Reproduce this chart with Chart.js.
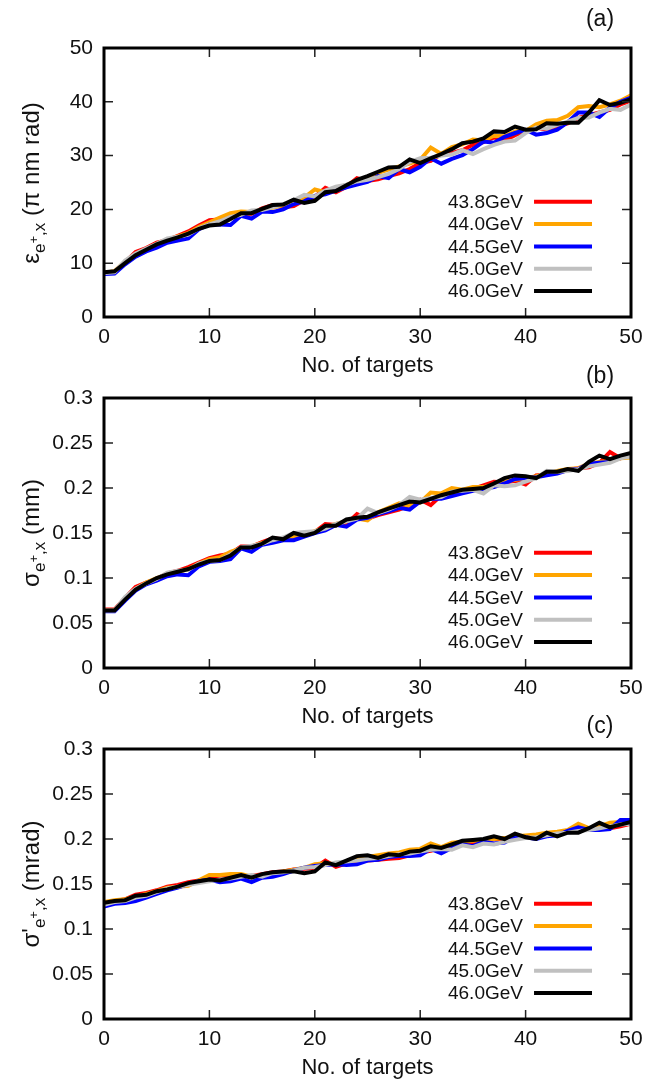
<!DOCTYPE html>
<html>
<head>
<meta charset="utf-8">
<script src="https://cdn.jsdelivr.net/npm/chart.js@4.4.1/dist/chart.umd.min.js"></script>
<style>
  body { margin: 0; background: #fff; width: 657px; height: 1080px; overflow: hidden; position: relative;
         font-family: "Liberation Sans", Arial, sans-serif; }
  canvas { position: absolute; left: 0; }
  .ylab { position: absolute; font-size: 24px; white-space: nowrap; color: #111;
          transform: translate(-50%, -50%) rotate(-90deg); }
  .ylab sub { font-size: 17px; }
  .ylab sub sup { font-size: 13px; }
  .tag { position: absolute; font-size: 23px; color: #111; transform: translate(-50%, -50%); }
</style>
</head>
<body>
<canvas id="chartA" width="657" height="383" style="top:0px"></canvas>
<canvas id="chartB" width="657" height="384" style="top:350px"></canvas>
<canvas id="chartC" width="657" height="384" style="top:701px"></canvas>

<div class="tag" style="left:600px;top:18px">(a)</div>
<div class="tag" style="left:600px;top:375px">(b)</div>
<div class="tag" style="left:600px;top:725px">(c)</div>

<div class="ylab" style="left:33px;top:183px">&epsilon;<sub>e<sup>+</sup>,x</sub> (&pi; nm rad)</div>
<div class="ylab" style="left:33px;top:533px">&sigma;<sub>e<sup>+</sup>,x</sub> (mm)</div>
<div class="ylab" style="left:33px;top:884px">&sigma;'<sub>e<sup>+</sup>,x</sub> (mrad)</div>

<script>
const targets = [0,1,2,3,4,5,6,7,8,9,10,11,12,13,14,15,16,17,18,19,20,21,22,23,24,25,26,27,28,29,30,
  31,32,33,34,35,36,37,38,39,40,41,42,43,44,45,46,47,48,49,50];
const energies = ['43.8GeV', '44.0GeV', '44.5GeV', '45.0GeV', '46.0GeV'];
const colors = ['#ff0000', '#ffa500', '#0000ff', '#c0c0c0', '#000000'];

const xTicks = [0, 10, 20, 30, 40, 50];
const yTicksA = [0, 10, 20, 30, 40, 50];
const yTicksBC = [0, 0.05, 0.1, 0.15, 0.2, 0.25, 0.3];
const yLabelsBC = ['0', '0.05', '0.1', '0.15', '0.2', '0.25', '0.3'];

// (a) emittance, pi nm rad
const eps438 = [8.3,8.4,10.2,12.1,12.8,13.8,14.3,15.1,15.9,17.0,18.0,18.1,18.7,19.2,19.2,20.2,20.8,20.4,20.6,21.7,
  22.3,24.0,23.2,24.2,25.8,25.3,25.6,26.2,26.7,27.5,28.6,29.0,30.3,30.5,31.0,32.0,32.5,33.4,32.8,33.8,
  34.6,35.2,34.8,35.5,36.0,37.0,37.5,38.0,38.5,39.5,40.2];
const eps440 = [8.2,8.5,10.3,11.7,12.6,13.6,14.4,15.0,15.6,16.7,17.6,18.5,19.3,19.6,19.5,20.0,20.3,20.8,21.5,22.2,
  23.7,23.2,24.1,24.5,25.4,26.0,26.8,27.4,28.0,28.5,29.2,31.5,30.3,31.6,32.1,33.0,32.8,33.7,33.6,34.5,
  34.6,35.8,36.5,36.6,37.4,39.0,39.2,39.0,39.5,40.2,41.2];
const eps445 = [8.0,8.1,9.8,11.2,12.2,12.9,13.8,14.2,14.6,16.3,17.2,17.2,17.1,18.8,18.3,19.6,19.5,20.0,21.0,21.5,
  22.5,22.8,23.5,24.1,24.6,25.1,26.2,25.8,27.5,26.9,27.9,29.5,28.5,29.4,30.1,31.2,32.6,32.4,33.5,34.2,
  34.8,33.9,34.2,34.8,36.2,38.0,38.0,37.2,38.9,40.0,40.8];
const eps450 = [8.2,8.3,10.5,11.8,12.7,13.6,14.6,14.9,15.3,16.5,17.2,17.8,18.6,19.0,19.8,19.9,20.4,21.0,21.7,22.7,
  22.4,23.5,24.2,24.6,25.2,25.5,26.0,26.6,27.5,28.8,29.5,29.6,30.0,30.2,31.0,30.3,31.2,32.0,32.6,32.8,
  34.2,35.2,35.0,35.7,36.3,37.0,37.1,38.0,38.7,38.5,39.5];
const eps460 = [8.3,8.5,10.0,11.5,12.5,13.5,14.2,14.8,15.5,16.4,17.0,17.2,18.2,19.3,19.3,20.1,20.8,20.9,21.8,21.2,
  21.6,23.2,23.4,24.5,25.5,26.2,27.0,27.8,27.9,29.3,28.6,29.5,30.3,31.2,32.3,32.6,33.2,34.5,34.4,35.4,
  34.8,34.9,36.0,35.9,36.1,36.1,38.0,40.3,39.4,39.8,40.5];

// (b) beam size, mm
const sig438 = [0.065,0.065,0.078,0.090,0.095,0.099,0.105,0.108,0.112,0.117,0.122,0.125,0.127,0.135,0.135,0.140,0.144,0.143,0.145,0.147,
  0.151,0.160,0.159,0.160,0.171,0.166,0.170,0.173,0.176,0.181,0.187,0.181,0.192,0.193,0.197,0.199,0.203,0.207,0.206,0.208,
  0.204,0.214,0.215,0.217,0.220,0.222,0.223,0.228,0.240,0.233,0.238];
const sig440 = [0.064,0.064,0.077,0.088,0.095,0.100,0.104,0.107,0.110,0.116,0.121,0.123,0.129,0.133,0.135,0.139,0.142,0.144,0.146,0.148,
  0.152,0.156,0.160,0.163,0.166,0.164,0.173,0.178,0.183,0.180,0.184,0.195,0.194,0.200,0.198,0.201,0.201,0.204,0.207,0.209,
  0.211,0.213,0.216,0.219,0.221,0.222,0.227,0.229,0.230,0.233,0.234];
const sig445 = [0.063,0.063,0.075,0.086,0.093,0.097,0.102,0.104,0.103,0.113,0.118,0.119,0.121,0.133,0.129,0.137,0.139,0.142,0.142,0.146,
  0.150,0.153,0.159,0.157,0.165,0.167,0.171,0.174,0.178,0.176,0.185,0.188,0.188,0.191,0.194,0.197,0.199,0.201,0.205,0.210,
  0.211,0.212,0.214,0.216,0.220,0.221,0.227,0.228,0.229,0.234,0.236];
const sig450 = [0.064,0.064,0.079,0.088,0.094,0.099,0.106,0.108,0.109,0.116,0.119,0.120,0.126,0.134,0.136,0.138,0.142,0.145,0.150,0.151,
  0.152,0.155,0.160,0.163,0.166,0.177,0.172,0.176,0.181,0.190,0.187,0.189,0.190,0.196,0.197,0.198,0.194,0.203,0.202,0.203,
  0.207,0.211,0.219,0.218,0.219,0.221,0.224,0.226,0.228,0.233,0.235];
const sig460 = [0.064,0.064,0.076,0.087,0.094,0.100,0.104,0.107,0.110,0.115,0.119,0.120,0.125,0.134,0.134,0.138,0.145,0.143,0.150,0.147,
  0.150,0.158,0.158,0.165,0.167,0.168,0.173,0.177,0.181,0.185,0.184,0.188,0.192,0.195,0.198,0.199,0.200,0.205,0.211,0.214,
  0.213,0.211,0.218,0.218,0.221,0.219,0.229,0.236,0.232,0.236,0.239];

// (c) divergence, mrad
const div438 = [0.128,0.131,0.133,0.138,0.140,0.143,0.147,0.149,0.152,0.154,0.157,0.158,0.158,0.158,0.159,0.161,0.163,0.164,0.166,0.167,
  0.168,0.176,0.169,0.173,0.175,0.176,0.177,0.178,0.179,0.182,0.185,0.187,0.190,0.191,0.194,0.196,0.197,0.200,0.199,0.201,
  0.203,0.204,0.205,0.206,0.208,0.210,0.211,0.213,0.212,0.214,0.217];
const div440 = [0.130,0.132,0.133,0.136,0.139,0.142,0.146,0.147,0.148,0.154,0.160,0.160,0.161,0.161,0.158,0.160,0.162,0.164,0.166,0.168,
  0.172,0.173,0.172,0.175,0.178,0.180,0.182,0.184,0.185,0.188,0.189,0.195,0.191,0.196,0.197,0.198,0.199,0.200,0.201,0.203,
  0.204,0.205,0.207,0.208,0.210,0.217,0.212,0.214,0.218,0.219,0.221];
const div445 = [0.125,0.128,0.129,0.131,0.135,0.139,0.143,0.146,0.150,0.153,0.155,0.152,0.153,0.156,0.152,0.157,0.158,0.161,0.165,0.168,
  0.170,0.171,0.172,0.171,0.172,0.176,0.177,0.180,0.181,0.181,0.182,0.189,0.184,0.190,0.194,0.192,0.197,0.195,0.196,0.203,
  0.202,0.200,0.203,0.204,0.209,0.213,0.210,0.210,0.211,0.221,0.221];
const div450 = [0.127,0.130,0.131,0.135,0.137,0.141,0.145,0.147,0.149,0.151,0.153,0.155,0.156,0.158,0.160,0.158,0.162,0.163,0.165,0.168,
  0.169,0.171,0.174,0.175,0.176,0.178,0.179,0.181,0.183,0.184,0.186,0.188,0.189,0.188,0.193,0.191,0.195,0.194,0.197,0.199,
  0.201,0.202,0.204,0.206,0.207,0.209,0.210,0.212,0.214,0.216,0.217];
const div460 = [0.129,0.131,0.132,0.137,0.138,0.142,0.144,0.147,0.151,0.153,0.155,0.154,0.157,0.160,0.157,0.161,0.163,0.164,0.164,0.162,
  0.164,0.174,0.171,0.176,0.181,0.182,0.179,0.183,0.182,0.186,0.187,0.192,0.190,0.194,0.198,0.199,0.200,0.203,0.200,0.206,
  0.202,0.200,0.207,0.203,0.207,0.207,0.212,0.218,0.213,0.216,0.219];

const FONT = '"Liberation Sans", Arial, sans-serif';

// frame, inward ticks on all four sides, and the legend inside the plot
const framePlugin = {
  id: 'frame',
  afterDatasetsDraw(chart) {
    const { ctx, chartArea: a, scales } = chart;
    ctx.save();
    ctx.strokeStyle = '#222';
    ctx.lineWidth = 1.5;
    const len = 9;
    scales.x.ticks.forEach(t => {
      const px = scales.x.getPixelForValue(t.value);
      if (px <= a.left + 1 || px >= a.right - 1) return;
      ctx.beginPath();
      ctx.moveTo(px, a.bottom); ctx.lineTo(px, a.bottom - len);
      ctx.moveTo(px, a.top); ctx.lineTo(px, a.top + len);
      ctx.stroke();
    });
    scales.y.ticks.forEach(t => {
      const py = scales.y.getPixelForValue(t.value);
      if (py <= a.top + 1 || py >= a.bottom - 1) return;
      ctx.beginPath();
      ctx.moveTo(a.left, py); ctx.lineTo(a.left + len, py);
      ctx.moveTo(a.right, py); ctx.lineTo(a.right - len, py);
      ctx.stroke();
    });
    ctx.strokeStyle = '#000';
    ctx.lineWidth = 3;
    ctx.strokeRect(a.left, a.top, a.right - a.left, a.bottom - a.top);

    // legend
    const w = a.right - a.left;
    const textX = a.left + 0.795 * w;
    const x0 = a.left + 0.816 * w, x1 = a.left + 0.926 * w;
    ctx.font = '19px ' + FONT;
    ctx.textAlign = 'right';
    ctx.textBaseline = 'middle';
    chart.data.datasets.forEach((ds, i) => {
      const y = a.bottom - 26 - (4 - i) * 22.3;
      ctx.fillStyle = '#111';
      ctx.fillText(ds.label, textX, y + 1);
      ctx.strokeStyle = ds.borderColor;
      ctx.lineWidth = 4;
      ctx.beginPath();
      ctx.moveTo(x0, y); ctx.lineTo(x1, y);
      ctx.stroke();
    });
    ctx.restore();
  }
};

function makePanel(id, series, yTicks, yLabels, yMax) {
  const datasets = series.map((vals, i) => ({
    label: energies[i],
    data: vals.map((v, k) => ({ x: targets[k], y: v })),
    borderColor: colors[i],
    borderWidth: 4,
    pointRadius: 0,
    tension: 0,
    fill: false,
    order: 5 - i
  }));
  return new Chart(document.getElementById(id), {
    type: 'line',
    data: { datasets },
    options: {
      responsive: false,
      animation: false,
      events: [],
      layout: { padding: { top: 48, right: 26, bottom: 0, left: 0 } },
      plugins: { legend: { display: false }, tooltip: { enabled: false } },
      scales: {
        x: {
          type: 'linear', min: 0, max: 50,
          afterBuildTicks: s => { s.ticks = xTicks.map(v => ({ value: v })); },
          afterFit: s => { s.height = 66; },
          grid: { display: false, drawTicks: false },
          border: { display: false },
          ticks: { color: '#111', padding: 8, font: { size: 21, family: FONT }, maxRotation: 0,
                   callback: v => String(v) },
          title: { display: true, text: 'No. of targets', color: '#111',
                   font: { size: 22, family: FONT }, padding: { top: 0, bottom: 4 } }
        },
        y: {
          type: 'linear', min: 0, max: yMax,
          afterBuildTicks: s => { s.ticks = yTicks.map(v => ({ value: v })); },
          afterFit: s => { s.width = 104; },
          grid: { display: false, drawTicks: false },
          border: { display: false },
          ticks: { color: '#111', padding: 11, font: { size: 21, family: FONT },
                   callback: (v, idx) => yLabels[idx] }
        }
      }
    },
    plugins: [framePlugin]
  });
}

makePanel('chartA', [eps438, eps440, eps445, eps450, eps460], yTicksA, yTicksA.map(String), 50);
makePanel('chartB', [sig438, sig440, sig445, sig450, sig460], yTicksBC, yLabelsBC, 0.3);
makePanel('chartC', [div438, div440, div445, div450, div460], yTicksBC, yLabelsBC, 0.3);
</script>
</body>
</html>
